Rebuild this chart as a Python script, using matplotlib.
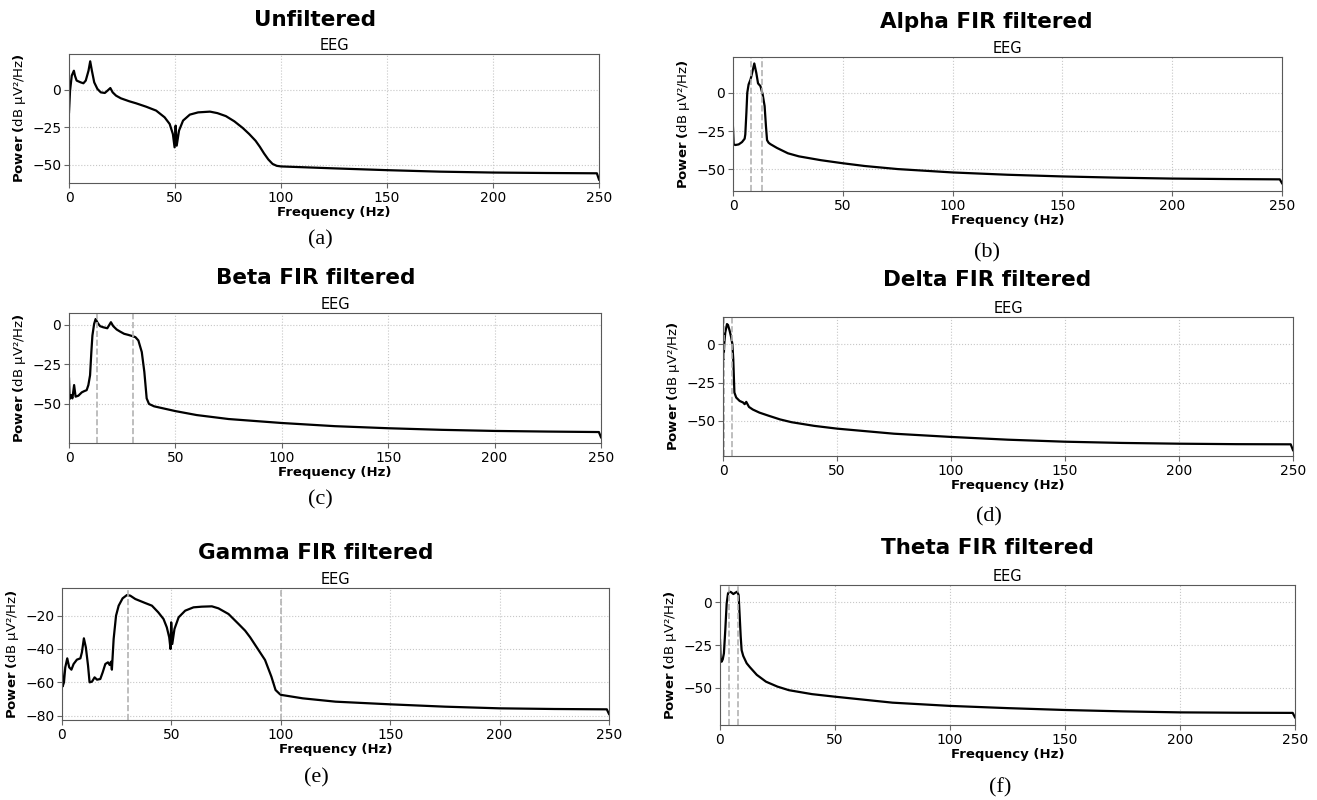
import matplotlib.pyplot as plt

# values (frequency in Hz, power in dB)
a_freq = [0, 0.5, 1.3, 2.3, 2.8, 3.6, 5.5, 6.8, 7.9, 9.2, 10, 10.8, 11.9, 13.4, 15, 16.9, 18.2, 19.5, 20.6, 22.2,
          24.5, 28.5, 31.6, 36.4, 41.1, 45.1, 47.5, 49, 49.8, 50.3, 50.8, 51.9, 53.8, 57, 60.9, 66.5, 70, 74, 78, 82,
          85, 88, 90, 92, 94, 96, 98, 100, 125, 150, 175, 200, 225, 249, 250]
a_psd = [-15, -0.4, 9.6, 12.9, 9.6, 6.3, 5.1, 4.5, 6.3, 12.9, 19.2, 12.9, 5.1, 0.7, -1.6, -2, -0.4, 1.3, -1.6, -3.8,
         -5.6, -7.6, -8.9, -11.2, -13.8, -18.3, -22.8, -29.5, -38.4, -23.9, -37.3, -27.2, -20.5, -16.5, -15, -14.5,
         -15.5, -17.5, -21, -25.5, -29.5, -34, -38, -42.5, -46.5, -49.5, -50.8, -51.2, -52.5, -53.7, -54.7, -55.3,
         -55.6, -55.8, -60]

b_freq = [0, 0.3, 1.1, 2.6, 4.1, 5.3, 5.6, 6.1, 6.5, 7.1, 8.0, 8.8, 9.7, 10.6, 11.4, 12.5, 13.5, 14.4, 15.0, 15.5,
          16.2, 17, 20, 25, 30, 40, 50, 60, 75, 100, 125, 150, 175, 200, 225, 249, 250]
b_psd = [-22.8, -33.7, -34.1, -33.7, -32.2, -30, -27.2, -13, 0, 5.4, 8.7, 13.5, 19.1, 13, 6.1, 4.3, -1.1, -8.7,
         -21.7, -30.9, -32.6, -33.5, -36, -39.5, -41.5, -44, -46, -47.8, -49.8, -52, -53.5, -54.6, -55.4, -56,
         -56.3, -56.5, -59]

c_freq = [0, 0.3, 0.9, 1.6, 2.4, 3.1, 4.4, 6, 7.2, 8.3, 9.1, 9.9, 10.5, 11, 11.8, 12.5, 13.5, 14.6, 16.1, 18,
          19.7, 20.8, 22.4, 24, 25.9, 27.9, 29.9, 31.2, 32.6, 34.2, 35.4, 36.5, 37.6, 40, 50, 60, 75, 100, 125, 150,
          175, 200, 225, 249, 250]
c_psd = [-34, -46.9, -44.4, -46.5, -38.1, -45.4, -44.8, -42.7, -41.9, -41.3, -38.1, -31.9, -17.3, -6.9, 0.4, 3.5,
         1, -1, -1.7, -2.3, 1.5, -1, -3.1, -4.4, -5.8, -6.5, -7.3, -7.9, -10, -17.3, -29.8, -46.5, -50, -51.5,
         -54.5, -57, -59.5, -62, -64, -65.3, -66.3, -67, -67.4, -67.7, -71]

d_freq = [0.25, 0.6, 1.0, 1.75, 2.2, 2.9, 3.6, 4.1, 4.5, 5, 5.8, 7.3, 8.8, 9.5, 10.2, 11.4, 13.1, 16, 20, 25,
          30, 40, 50, 75, 100, 125, 150, 175, 200, 225, 249, 250]
d_psd = [-9.8, 1.1, 7.6, 13, 12.4, 8.7, 4.3, 0, -9.8, -31.5, -34.8, -37, -38, -39.1, -37.6, -40.9, -42.6, -44.6,
         -46.6, -49, -50.8, -53.2, -55, -58.3, -60.4, -62.2, -63.5, -64.3, -64.8, -65.1, -65.2, -69]

e_freq = [0, 0.3, 0.9, 1.5, 2.4, 3.3, 4.3, 5.3, 6.8, 8.4, 9.1, 10, 10.9, 11.9, 12.6, 13.7, 14.9, 16, 17.5, 18.6,
          19.8, 21, 21.8, 22.4, 22.8, 23.6, 24.7, 25.9, 27.7, 29.7, 31.2, 33.5, 38, 41.1, 44, 46.4, 47.9, 49, 49.6,
          49.9, 50.4, 51.4, 53.3, 56.3, 60.1, 63.9, 68.5, 71.5, 76.1, 80.7, 83.7, 86, 88, 90, 92.8, 95.7, 97.6,
          99.5, 100, 110, 125, 150, 175, 200, 225, 249, 250]
e_psd = [-51, -62.4, -60, -51, -45.6, -51, -52.4, -49, -46.4, -45.6, -42, -33.6, -39, -50, -60, -59.6, -57, -58.4,
         -58, -54, -49, -48, -49.6, -47.6, -52.4, -34, -20, -14, -9.6, -7.6, -8, -10, -12.4, -14, -18, -22, -27,
         -33, -40, -24, -37, -28, -21, -17, -15, -14.6, -14.4, -15.6, -19, -25, -29, -33, -37, -41, -46.6, -56.6,
         -64.6, -67, -67.5, -69.6, -71.6, -73.2, -74.6, -75.6, -76, -76.2, -79]

f_freq = [0, 0.3, 0.7, 1.2, 1.7, 2.3, 2.9, 3.5, 4.1, 4.8, 5.8, 6.7, 7.5, 8.1, 8.5, 9, 9.4, 10.1, 11.6, 13, 16, 20,
          25, 30, 40, 50, 75, 100, 125, 150, 175, 200, 225, 249, 250]
f_psd = [-22, -33.8, -34.8, -33.4, -29.9, -16.2, -0.6, 5.3, 6.3, 6, 4.9, 5.7, 6.3, 4.3, -6.4, -20, -28, -31.4,
         -35.7, -38, -42.5, -46.5, -49.4, -51.5, -53.8, -55.3, -58.8, -60.7, -62, -63.1, -63.9, -64.5, -64.7,
         -64.8, -67.4]

titles = ["Unfiltered", "Alpha FIR filtered", "Beta FIR filtered",
          "Delta FIR filtered", "Gamma FIR filtered", "Theta FIR filtered"]
letters = ["(a)", "(b)", "(c)", "(d)", "(e)", "(f)"]
band_edges = [[], [8, 13], [13, 30], [0.5, 4], [30, 100], [4, 8]]
yticks_all = [[-50, -25, 0]] * 4 + [[-80, -60, -40, -20], [-50, -25, 0]]
ylims = [(-62.3, 24.1), (-64.1, 23.3), (-74.6, 7.3), (-72.8, 17.6), (-82.6, -3.4), (-71.9, 10.2)]
series = [(a_freq, a_psd), (b_freq, b_psd), (c_freq, c_psd),
          (d_freq, d_psd), (e_freq, e_psd), (f_freq, f_psd)]

W, H = 1317, 800
# axes boxes in pixels: left, top, right, bottom
boxes = [(69, 54, 599, 183), (733, 57, 1282, 191), (69, 313, 601, 443),
         (723, 317, 1293, 456), (62, 588, 609, 720), (720, 585, 1295, 725)]
title_pos = [(315, 20), (986, 22), (316, 278), (987, 280), (316, 553), (987, 548)]
letter_pos = [(320, 240), (987, 253), (320, 500), (989, 517), (316, 778), (1000, 788)]

fig = plt.figure(figsize=(W / 100, H / 100), dpi=100)

for i in range(6):
    l, t, r, b = boxes[i]
    ax = fig.add_axes([l / W, 1 - b / H, (r - l) / W, (b - t) / H])
    fx, py = series[i]
    ax.plot(fx, py, color="black", lw=1.6)
    for edge in band_edges[i]:
        ax.axvline(edge, color="0.7", ls="--", lw=1.2)
    ax.set_xlim(0, 250)
    ax.set_ylim(*ylims[i])
    ax.set_xticks([0, 50, 100, 150, 200, 250])
    ax.set_yticks(yticks_all[i])
    ax.grid(True, ls=":", color="0.78", lw=0.8)
    ax.set_axisbelow(True)
    for s in ax.spines.values():
        s.set_color("0.35")
    ax.tick_params(labelsize=10, length=3.5, pad=2, color="0.4")
    ax.set_xlabel("Frequency (Hz)", fontsize=9.5, fontweight="bold", labelpad=1)
    ax.set_ylabel(r"$\bf{Power\ (}$dB µV²/Hz$\bf{)}$", fontsize=9.5, labelpad=3)
    ax.set_title("EEG", fontsize=10.5, pad=3)

    tx, ty = title_pos[i]
    fig.text(tx / W, 1 - ty / H, titles[i], fontsize=15.5, fontweight="bold",
             ha="center", va="center")
    lx, ly = letter_pos[i]
    fig.text(lx / W, 1 - ly / H, letters[i], fontsize=16, family="Liberation Serif",
             ha="center", va="center")

fig.savefig("out.png", dpi=100)
